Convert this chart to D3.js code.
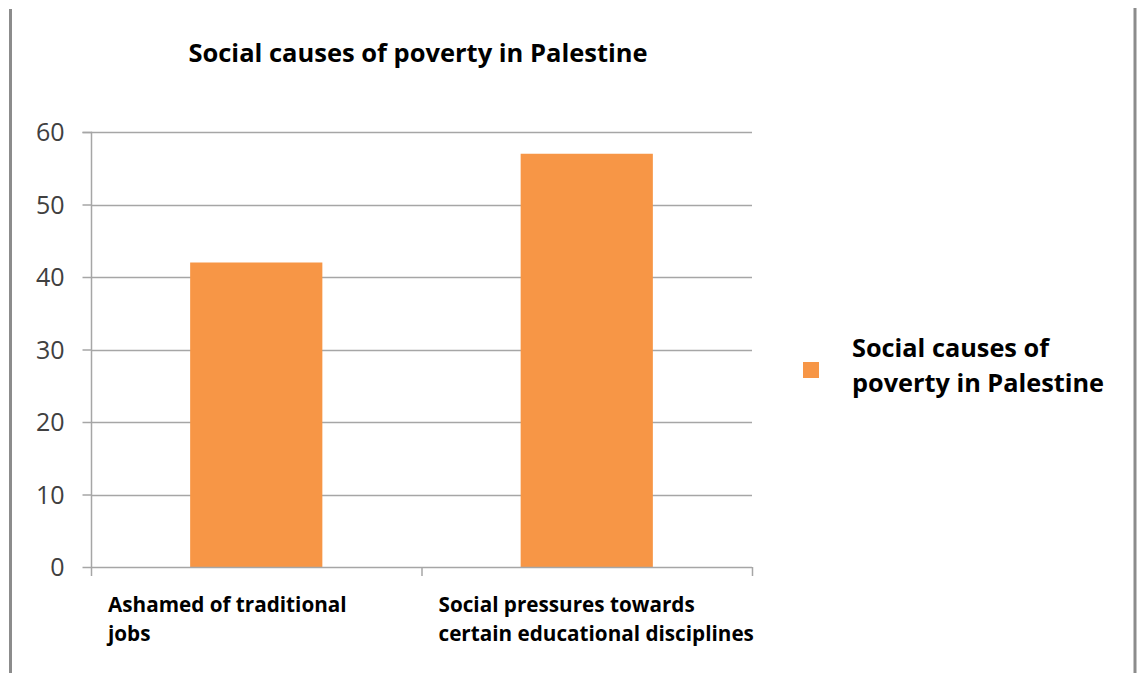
<!DOCTYPE html>
<html><head><meta charset="utf-8">
<script src="https://cdn.jsdelivr.net/npm/d3@7"></script>
<style>body{margin:0;background:#fff;} svg{display:block;}</style>
</head><body>
<script>
const categories = [["Ashamed of traditional", "jobs"], ["Social pressures towards", "certain educational disciplines"]];
const values = [42, 57];
const yTicks = [0, 10, 20, 30, 40, 50, 60];
const title = "Social causes of poverty in Palestine";
const legendLines = ["Social causes of", "poverty in Palestine"];
const barColor = "#F79646";

(function () {
const W = 1139, H = 673;
const svg = d3.select("body").append("svg").attr("width", W).attr("height", H);
svg.append("rect").attr("width", W).attr("height", H).attr("fill", "#fff");
// frame lines
svg.append("line").attr("x1", 10.5).attr("x2", 10.5).attr("y1", 9).attr("y2", H).attr("stroke", "#8c8c8c").attr("stroke-width", 3);
svg.append("line").attr("x1", 1135).attr("x2", 1135).attr("y1", 8).attr("y2", H).attr("stroke", "#8c8c8c").attr("stroke-width", 3);

const pL = 91, pR = 752, pT = 132, pB = 567;
const x = d3.scaleBand().domain(d3.range(values.length)).range([pL, pR]).paddingInner(0.6).paddingOuter(0.3);
const y = d3.scaleLinear().domain([0, 60]).range([pB, pT]);

const font = "'Open Sans', 'DejaVu Sans', sans-serif";

// gridlines
svg.append("g").selectAll("line").data(yTicks.slice(1)).join("line")
  .attr("x1", pL).attr("x2", pR)
  .attr("y1", d => Math.round(y(d)) + 0.5).attr("y2", d => Math.round(y(d)) + 0.5)
  .attr("stroke", "#a6a6a6").attr("stroke-width", 1.5);

// bars
svg.append("g").selectAll("rect").data(values).join("rect")
  .attr("x", (d, i) => x(i)).attr("width", x.bandwidth())
  .attr("y", d => y(d)).attr("height", d => pB - y(d))
  .attr("fill", barColor);

// y axis
const yAxis = d3.axisLeft(y).tickValues(yTicks).tickSize(9).tickPadding(18);
const gy = svg.append("g").attr("transform", `translate(${pL + 0.5},0)`).call(yAxis);
gy.select(".domain").attr("stroke", "#a6a6a6").attr("stroke-width", 1.5).attr("d", `M-9,${pT + 0.5}H0V${pB + 0.5}`);
gy.selectAll(".tick line").attr("stroke", "#a6a6a6").attr("stroke-width", 1.5);
gy.selectAll(".tick text").attr("font-family", font).attr("font-size", 25).attr("fill", "#404040").attr("dy", "0.35em");

// x axis line and ticks
const gx = svg.append("g");
gx.append("line").attr("x1", pL).attr("x2", pR).attr("y1", pB + 0.5).attr("y2", pB + 0.5).attr("stroke", "#a6a6a6").attr("stroke-width", 1.5);
const xt = [pL, (pL + pR) / 2, pR];
gx.selectAll("line.t").data(xt).join("line").attr("class", "t")
  .attr("x1", d => d + 0.5).attr("x2", d => d + 0.5).attr("y1", pB).attr("y2", pB + 9)
  .attr("stroke", "#a6a6a6").attr("stroke-width", 1.5);

// category labels
const step = (pR - pL) / values.length;
categories.forEach((lines, i) => {
  const t = svg.append("text").attr("font-family", font).attr("font-weight", "bold").attr("font-size", 20.7).attr("fill", "#000");
  lines.forEach((ln, j) => {
    t.append("tspan").attr("x", pL + i * step + 17).attr("y", 612 + j * 29).text(ln);
  });
});

// title
svg.append("text").attr("x", 418).attr("y", 62).attr("text-anchor", "middle")
  .attr("font-family", font).attr("font-weight", "bold").attr("font-size", 25.5).attr("fill", "#000").text(title);

// legend
svg.append("rect").attr("x", 803).attr("y", 362).attr("width", 16).attr("height", 16).attr("fill", barColor);
const lt = svg.append("text").attr("font-family", font).attr("font-weight", "bold").attr("font-size", 25.3).attr("fill", "#000");
legendLines.forEach((ln, j) => lt.append("tspan").attr("x", 852).attr("y", 357 + j * 35).text(ln));
})();
</script>
</body></html>
